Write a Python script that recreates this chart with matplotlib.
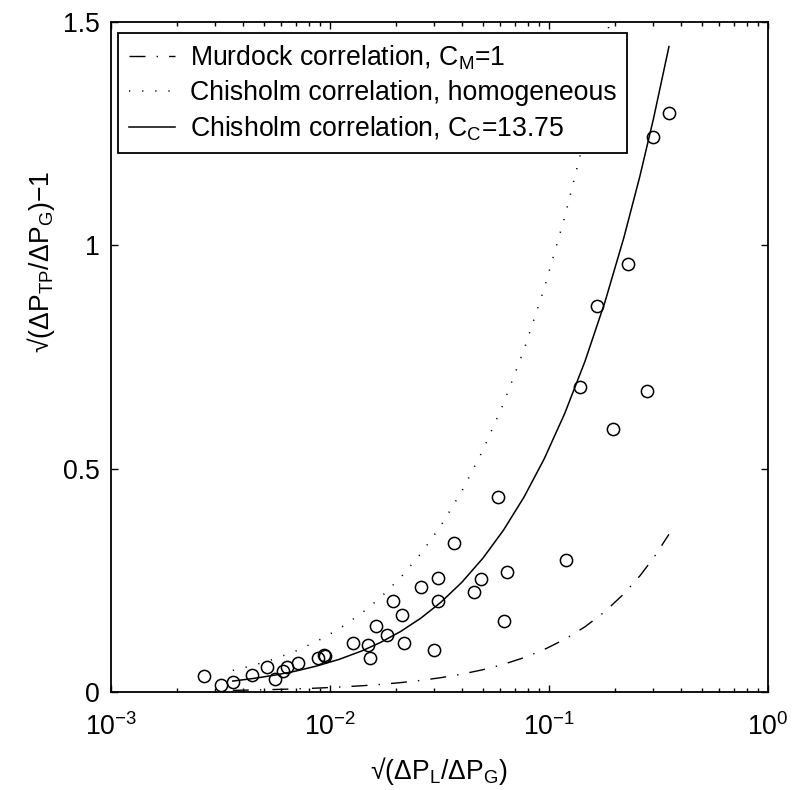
import matplotlib
matplotlib.use("Agg")
from matplotlib import pyplot as plt
from matplotlib.ticker import LogLocator, NullFormatter, FixedLocator

plt.rcParams['font.family'] = ['Liberation Sans', 'DejaVu Sans']
plt.rcParams['mathtext.fontset'] = 'custom'
plt.rcParams['mathtext.rm'] = 'Liberation Sans'
plt.rcParams['mathtext.it'] = 'Liberation Sans:italic'
plt.rcParams['mathtext.default'] = 'rm'

# measured points: sqrt(dPL/dPG) vs sqrt(dPTP/dPG)-1
meas_x = [0.00267, 0.00317, 0.00360, 0.00440, 0.00514, 0.00559, 0.00608, 0.00634,
          0.00717, 0.00884, 0.00939, 0.00949, 0.01278, 0.01491, 0.01523, 0.01622,
          0.01815, 0.01945, 0.02132, 0.02178, 0.02603, 0.02994, 0.03103, 0.03113,
          0.03674, 0.04535, 0.04883, 0.05832, 0.06250, 0.06450, 0.1196, 0.1390,
          0.1651, 0.1960, 0.2283, 0.2793, 0.2975, 0.3532]
meas_y = [0.0365, 0.0163, 0.0217, 0.0380, 0.0566, 0.0298, 0.0477, 0.0566,
          0.0642, 0.0754, 0.0822, 0.0806, 0.1104, 0.1045, 0.0768, 0.1478,
          0.1276, 0.2044, 0.1730, 0.1097, 0.2344, 0.0940, 0.2552, 0.2030,
          0.3329, 0.2239, 0.2536, 0.4372, 0.1596, 0.2693, 0.2962, 0.6835,
          0.8641, 0.5894, 0.9593, 0.6738, 1.2418, 1.2955]

# correlation curves
curve_x = [0.0036, 0.0045, 0.0056, 0.007, 0.0087, 0.011, 0.014, 0.017, 0.021,
           0.026, 0.032, 0.04, 0.05, 0.062, 0.077, 0.095, 0.118, 0.146, 0.18,
           0.22, 0.26, 0.3, 0.353]
murdock_y = [0.0036, 0.0045, 0.0056, 0.007, 0.0087, 0.011, 0.014, 0.017, 0.021,
             0.026, 0.032, 0.04, 0.05, 0.062, 0.077, 0.095, 0.118, 0.146, 0.18,
             0.22, 0.26, 0.3, 0.353]
chisholm_hom_y = [0.0483, 0.0601, 0.0743, 0.0920, 0.1133, 0.1413, 0.1769, 0.2115,
                  0.2562, 0.3098, 0.3715, 0.4497, 0.5419, 0.6459, 0.7673, 0.9030,
                  1.0637, 1.2442, 1.4459, 1.6643]
chisholm_c_y = [0.0245, 0.0305, 0.0378, 0.0470, 0.0582, 0.0730, 0.0921, 0.1109,
                0.1354, 0.1654, 0.2004, 0.2456, 0.3000, 0.3625, 0.4369, 0.5216,
                0.6237, 0.7404, 0.8728, 1.0183, 1.1547, 1.2836, 1.4451]

y_ticks = [0, 0.5, 1, 1.5]
y_tick_labels = ['0', '0.5', '1', '1.5']

fig = plt.figure(figsize=(7.92, 7.90), dpi=100)
ax = fig.add_axes([111 / 792, 1 - 692 / 790, 657 / 792, 670 / 790])

ax.plot(curve_x, murdock_y, color='black', lw=1.0,
        linestyle=(0, (11.5, 8, 1, 8)),
        label='Murdock correlation, C$_{\\mathrm{M}}$=1')
ax.plot(curve_x[:len(chisholm_hom_y)], chisholm_hom_y, color='black', lw=1.1,
        linestyle=(0, (0.8, 7.8)),
        label='Chisholm correlation, homogeneous')
ax.plot(curve_x, chisholm_c_y, color='black', lw=1.1,
        label='Chisholm correlation, C$_{\\mathrm{C}}$=13.75')
ax.plot(meas_x, meas_y, linestyle='none', marker='o', markersize=8.8,
        markerfacecolor='none', markeredgecolor='black', markeredgewidth=1.1)

ax.set_xscale('log')
ax.set_xlim(1e-3, 1e0)
ax.set_ylim(0, 1.5)
ax.xaxis.set_major_locator(LogLocator(base=10, numticks=10))
ax.xaxis.set_minor_locator(LogLocator(base=10, subs=range(2, 10), numticks=20))
ax.xaxis.set_minor_formatter(NullFormatter())
ax.yaxis.set_major_locator(FixedLocator(y_ticks))
ax.set_yticklabels(y_tick_labels)

for side in ax.spines.values():
    side.set_linewidth(1.3)
ax.tick_params(which='both', direction='in', top=True, right=True, width=1.0,
               labelsize=19.2)
ax.tick_params(which='major', length=5)
ax.tick_params(which='minor', length=2.8)
ax.tick_params(axis='x', which='major', pad=15)
ax.tick_params(axis='y', which='major', pad=8)

ax.set_xlabel('√(ΔP$_{\\mathrm{L}}$/ΔP$_{\\mathrm{G}}$)', fontsize=19.2)
ax.xaxis.set_label_coords(0.5, -0.094)
ax.set_ylabel('√(ΔP$_{\\mathrm{TP}}$/ΔP$_{\\mathrm{G}}$)−1', fontsize=19.2)
ax.yaxis.set_label_coords(-0.082, 0.642)

leg = ax.legend(loc='upper left', bbox_to_anchor=(7 / 657, 1 - 11 / 670),
                borderaxespad=0, fontsize=19.2, frameon=True, fancybox=False,
                framealpha=1, edgecolor='black', handlelength=1.75,
                handletextpad=0.55, labelspacing=0.3, borderpad=0.4)
leg.get_frame().set_linewidth(1.3)

fig.savefig('out.png', dpi=100)
